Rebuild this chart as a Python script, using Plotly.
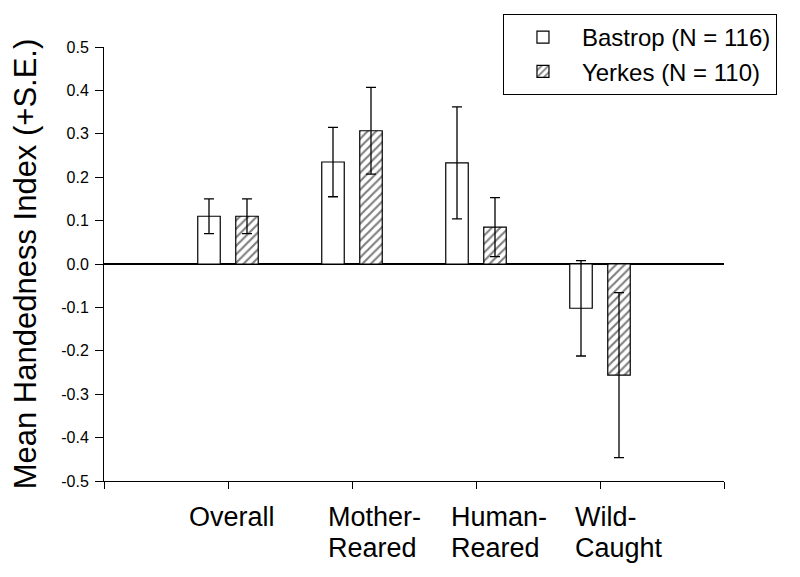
import plotly.graph_objects as go

# ---- data ----
categories = ["Overall", "Mother-<br>Reared", "Human-<br>Reared", "Wild-<br>Caught"]
cat_pos = [1, 2, 3, 4]
bastrop_mean = [0.11, 0.235, 0.233, -0.102]
bastrop_se = [0.040, 0.080, 0.129, 0.110]
yerkes_mean = [0.11, 0.307, 0.085, -0.256]
yerkes_se = [0.040, 0.100, 0.068, 0.190]
series_names = ["Bastrop (N = 116)", "Yerkes (N = 110)"]
y_tickvals = [0.5, 0.4, 0.3, 0.2, 0.1, 0.0, -0.1, -0.2, -0.3, -0.4, -0.5]
y_ticktext = ["0.5", "0.4", "0.3", "0.2", "0.1", "0.0", "-0.1", "-0.2", "-0.3", "-0.4", "-0.5"]
x_tickvals = [0, 1, 2, 3, 4, 5]
label_x = [0.669, 1.79, 2.78, 3.78]

FONT = "Liberation Sans, Arial, sans-serif"
LABEL_SIZE = 27
LINE_GAP = 31

fig = go.Figure()
fig.add_trace(go.Bar(
    x=cat_pos, y=bastrop_mean, name=series_names[0],
    marker=dict(color="white", line=dict(color="black", width=1.2)),
    error_y=dict(type="data", array=bastrop_se, visible=True,
                 color="black", thickness=1.3, width=5),
))
fig.add_trace(go.Bar(
    x=cat_pos, y=yerkes_mean, name=series_names[1],
    marker=dict(color="white", line=dict(color="black", width=1.2),
                pattern=dict(shape="/", fgcolor="black", bgcolor="white",
                             size=6, solidity=0.36)),
    error_y=dict(type="data", array=yerkes_se, visible=True,
                 color="black", thickness=1.3, width=5),
))

for lx, txt in zip(label_x, categories):
    for i, line in enumerate(txt.split("<br>")):
        fig.add_annotation(x=lx, y=0, xref="x", yref="paper", yshift=-19 - i * LINE_GAP,
                           text=line, showarrow=False, xanchor="left", yanchor="top",
                           align="left", font=dict(family=FONT, size=LABEL_SIZE, color="black"))

fig.update_layout(
    width=792, height=569,
    margin=dict(l=96, r=76, t=39, b=96, autoexpand=False),
    paper_bgcolor="white", plot_bgcolor="white",
    barmode="group", bargap=0.387, bargroupgap=0.408,
    font=dict(family=FONT, color="black"),
    showlegend=True,
    legend=dict(x=0.6435, y=1.076, xanchor="left", yanchor="top",
                bordercolor="black", borderwidth=1, bgcolor="white",
                font=dict(family=FONT, size=24, color="black"),
                itemwidth=68, tracegroupgap=0),
)
fig.update_xaxes(range=[0, 5], tickvals=x_tickvals, ticktext=[""] * len(x_tickvals),
                 ticks="outside", ticklen=7, tickcolor="black", tickwidth=1,
                 showline=True, linecolor="black", linewidth=1,
                 showgrid=False, zeroline=False, fixedrange=True)
fig.update_yaxes(range=[-0.5, 0.5], tickvals=y_tickvals, ticktext=y_ticktext,
                 ticks="outside", ticklen=8, tickcolor="black", tickwidth=1,
                 showline=True, linecolor="black", linewidth=1,
                 showgrid=False, zeroline=True, zerolinecolor="black", zerolinewidth=1.5,
                 tickfont=dict(family=FONT, size=16, color="black"), ticklabelstandoff=3,
                 title=dict(text="Mean Handedness Index (+S.E.)", standoff=21,
                            font=dict(family=FONT, size=31, color="black")))

fig.write_html("out.html")
